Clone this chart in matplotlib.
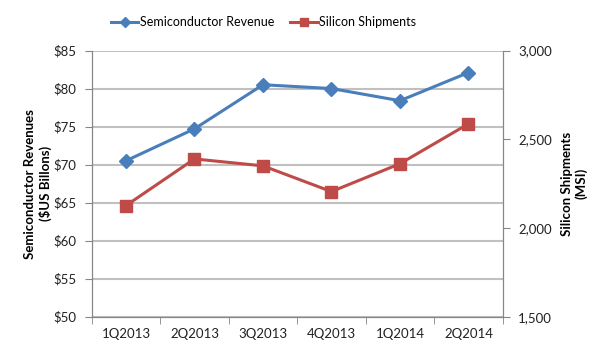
import matplotlib.pyplot as plt
import numpy as np

plt.rcParams['font.family'] = ['Lato', 'DejaVu Sans']

quarters = ['1Q2013', '2Q2013', '3Q2013', '4Q2013', '1Q2014', '2Q2014']
revenue = [70.5, 74.7, 80.5, 80.0, 78.4, 82.1]        # $US billions
shipments = [2126, 2389, 2350, 2205, 2362, 2587]      # MSI

blue = '#4A7EBB'
red = '#BE4B48'
axis_gray = '#868686'
grid_gray = '#C0C0C0'

fig = plt.figure(figsize=(6.04, 3.54), dpi=100)
ax = fig.add_axes([0.1518, 0.1054, 0.6805, 0.7519])
ax2 = ax.twinx()

x = np.arange(len(quarters))
l1, = ax.plot(x, revenue, color=blue, lw=2.2, marker='D', ms=7,
              label='Semiconductor Revenue')
l2, = ax2.plot(x, shipments, color=red, lw=2.2, marker='s', ms=8,
               label='Silicon Shipments')

ax.set_xlim(-0.5, len(quarters) - 0.5)
ax.set_ylim(50, 85)
ax.set_yticks(np.arange(50, 86, 5))
ax.set_yticklabels([f'${v}' for v in range(50, 86, 5)])
ax2.set_ylim(1500, 3000)
ax2.set_yticks([1500, 2000, 2500, 3000])
ax2.set_yticklabels([f'{v:,}' for v in [1500, 2000, 2500, 3000]])

ax.set_xticks(x)
ax.set_xticklabels(quarters)
ax.set_xticks(np.arange(-0.5, len(quarters), 1), minor=True)
ax.tick_params(axis='x', which='major', length=0, pad=8)
ax.tick_params(axis='x', which='minor', length=5, color=axis_gray)

ax.grid(axis='y', color=grid_gray, lw=1.5)
ax.set_axisbelow(True)

for a in (ax, ax2):
    a.spines['top'].set_visible(False)
    for s in ('left', 'right', 'bottom'):
        a.spines[s].set_color(axis_gray)
    a.tick_params(axis='y', length=5, color=axis_gray, labelsize=9.5,
                  labelcolor='#222222', pad=6)
ax.tick_params(axis='x', labelsize=9.5, labelcolor='#222222')

ax.set_ylabel('Semiconductor Revenues\n($US Billons)', fontsize=9.5,
              fontweight='bold')
ax.yaxis.set_label_coords(-0.097, 0.5)
ax2.set_ylabel('Silicon Shipments\n(MSI)', fontsize=9.5, fontweight='bold')
ax2.yaxis.set_label_coords(1.142, 0.5)

fig.legend(handles=[l1, l2], loc='center', bbox_to_anchor=(0.436, 0.937),
           ncol=2, frameon=False, fontsize=9, handlelength=2.2,
           handletextpad=0.1, columnspacing=1.3, markerscale=0.8)

fig.savefig('out.png', dpi=100)
